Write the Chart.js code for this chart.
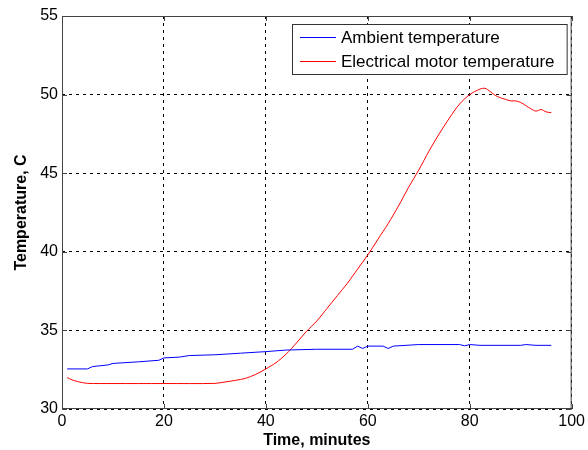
<!DOCTYPE html>
<html>
<head>
<meta charset="utf-8">
<script src="https://cdn.jsdelivr.net/npm/chart.js@4.4.1/dist/chart.umd.min.js"></script>
<style>
  html, body { margin: 0; padding: 0; background: #fff; }
  #wrap { width: 588px; height: 450px; }
</style>
</head>
<body>
<div id="wrap"><canvas id="tempChart"></canvas></div>
<script>
// minutes / degrees C
const ambientTime = [1, 5, 6, 9, 10, 15, 19, 20, 23, 25, 30, 35, 40, 44, 50, 57, 58, 59, 60, 63, 64, 65, 70, 78, 79, 80, 82, 90, 91, 93, 96];
const ambientTemp = [32.55, 32.55, 32.7, 32.8, 32.9, 33.0, 33.1, 33.25, 33.3, 33.4, 33.45, 33.55, 33.65, 33.75, 33.8, 33.8, 34.0, 33.85, 34.0, 34.0, 33.85, 34.0, 34.1, 34.1, 34.02, 34.1, 34.05, 34.05, 34.1, 34.05, 34.05];

const motorTime = [1, 2, 3, 4, 5, 10, 20, 30, 32, 34, 36, 38, 40, 42, 44, 46, 48, 50, 52, 54, 56, 58, 60, 62, 64, 66, 68, 70, 72, 74, 76, 78, 80, 82, 83, 84, 85, 86, 87, 88, 89, 90, 91, 92, 93, 94, 95, 96];
const motorTemp = [32.0, 31.85, 31.75, 31.68, 31.63, 31.62, 31.62, 31.63, 31.72, 31.82, 31.95, 32.2, 32.55, 32.95, 33.5, 34.2, 34.95, 35.6, 36.4, 37.2, 38.0, 38.9, 39.8, 40.8, 41.8, 42.9, 44.1, 45.2, 46.4, 47.5, 48.5, 49.4, 50.0, 50.35, 50.4, 50.2, 49.95, 49.8, 49.7, 49.6, 49.6, 49.5, 49.3, 49.1, 48.95, 49.05, 48.9, 48.85];

const xTicks = [0, 20, 40, 60, 80, 100];
const yTicks = [30, 35, 40, 45, 50, 55];

const seriesNames = ['Ambient temperature', 'Electrical motor temperature'];

const fontFamily = '"Liberation Sans", Arial, sans-serif';

function toPoints(xs, ys) {
    return xs.map(function (x, i) { return { x: x, y: ys[i] }; });
}

// box around plot + inward ticks, MATLAB style
const boxPlugin = {
    id: 'box',
    afterDraw: function (chart) {
        const a = chart.chartArea;
        const c = chart.ctx;
        c.save();
        c.strokeStyle = '#444';
        c.lineWidth = 1;
        c.strokeRect(a.left + 0.5, a.top + 0.5, a.right - a.left - 1, a.bottom - a.top - 1);
        const xs = chart.scales.x, ys = chart.scales.y;
        c.beginPath();
        xTicks.forEach(function (t) {
            const px = Math.round(xs.getPixelForValue(t)) + 0.5;
            c.moveTo(px, a.bottom); c.lineTo(px, a.bottom - 5);
            c.moveTo(px, a.top); c.lineTo(px, a.top + 5);
        });
        yTicks.forEach(function (t) {
            const py = Math.round(ys.getPixelForValue(t)) + 0.5;
            c.moveTo(a.left, py); c.lineTo(a.left + 5, py);
            c.moveTo(a.right, py); c.lineTo(a.right - 5, py);
        });
        c.stroke();
        c.restore();
    }
};

// legend box at top right
const legendPlugin = {
    id: 'boxLegend',
    afterDraw: function (chart) {
        const c = chart.ctx;
        const a = chart.chartArea;
        const left = 292, top = 24, right = a.right - 5, bottom = 74;
        c.save();
        c.fillStyle = '#fff';
        c.fillRect(left, top, right - left, bottom - top);
        c.strokeStyle = '#333';
        c.lineWidth = 1;
        c.strokeRect(left + 0.5, top + 0.5, right - left, bottom - top);
        c.font = '17px ' + fontFamily;
        c.textBaseline = 'middle';
        chart.data.datasets.forEach(function (ds, i) {
            const y = top + 13 + i * 24;
            c.strokeStyle = ds.borderColor;
            c.beginPath();
            c.moveTo(300, y + 0.5); c.lineTo(336, y + 0.5);
            c.stroke();
            c.fillStyle = '#000';
            c.fillText(ds.label, 341, y + 1);
        });
        c.restore();
    }
};

const ctx = document.getElementById('tempChart').getContext('2d');
const tempChart = new Chart(ctx, {
    type: 'line',
    data: {
        datasets: [{
            label: seriesNames[0],
            data: toPoints(ambientTime, ambientTemp),
            borderColor: '#0000ff',
            borderWidth: 1,
            pointRadius: 0,
            tension: 0
        }, {
            label: seriesNames[1],
            data: toPoints(motorTime, motorTemp),
            borderColor: '#ff0000',
            borderWidth: 1,
            pointRadius: 0,
            tension: 0.3
        }]
    },
    options: {
        responsive: true,
        maintainAspectRatio: false,
        animation: false,
        layout: {
            padding: { top: 16, right: 15, left: 0, bottom: 0 }
        },
        plugins: {
            legend: { display: false },
            tooltip: { enabled: false }
        },
        scales: {
            x: {
                type: 'linear',
                min: 0,
                max: 100,
                afterBuildTicks: function (axis) {
                    axis.ticks = xTicks.map(function (v) { return { value: v }; });
                },
                afterFit: function (axis) { axis.height = 41; },
                ticks: {
                    color: '#000',
                    padding: 3,
                    maxRotation: 0,
                    font: { family: fontFamily, size: 16 }
                },
                grid: {
                    color: '#000',
                    lineWidth: 1,
                    drawTicks: false
                },
                border: { display: false, dash: [3, 4] },
                title: {
                    display: true,
                    text: 'Time, minutes',
                    color: '#000',
                    padding: { top: 0, bottom: 0 },
                    font: { family: fontFamily, size: 16, weight: 'bold' }
                }
            },
            y: {
                min: 30,
                max: 55,
                afterBuildTicks: function (axis) {
                    axis.ticks = yTicks.map(function (v) { return { value: v }; });
                },
                afterFit: function (axis) { axis.width = 62; },
                ticks: {
                    color: '#000',
                    padding: 4,
                    font: { family: fontFamily, size: 16 }
                },
                grid: {
                    color: '#000',
                    lineWidth: 1,
                    drawTicks: false
                },
                border: { display: false, dash: [3, 4] },
                title: {
                    display: true,
                    text: 'Temperature, C',
                    color: '#000',
                    padding: { top: 12, bottom: 4 },
                    font: { family: fontFamily, size: 16, weight: 'bold' }
                }
            }
        }
    },
    plugins: [boxPlugin, legendPlugin]
});
</script>
</body>
</html>
